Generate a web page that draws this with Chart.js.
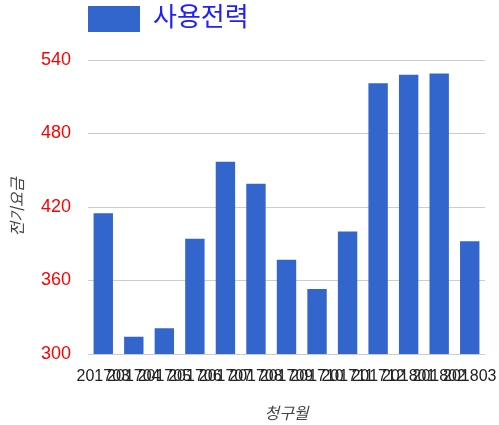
<!DOCTYPE html>
<html>
<head>
<meta charset="utf-8">
<script src="https://cdn.jsdelivr.net/npm/chart.js@4"></script>
<style>
  html, body { margin: 0; padding: 0; background: #fff; }
  #wrap { width: 499px; height: 425px; }
</style>
</head>
<body>
<div id="wrap"><canvas id="powerChart"></canvas></div>
<script>
const months = ["201703", "201704", "201705", "201706", "201707", "201708", "201709",
  "201710", "201711", "201712", "201801", "201802", "201803"];
const usage = [415, 314, 321, 394, 457, 439, 377, 353, 400, 521, 528, 529, 392];
const yTicks = [300, 360, 420, 480, 540];

const FONT = "'Liberation Sans', Arial, 'Noto Sans CJK KR', sans-serif";

// legend: fixed height above the plot, starts at the plot's left edge
const legendShift = {
  id: "legendShift",
  beforeLayout(chart) {
    const lg = chart.legend;
    if (lg && !lg._patched) {
      const fit = lg.fit;
      lg.fit = function () {
        fit.call(this);
        this.height = 60;
      };
      lg._patched = true;
    }
  },
  afterLayout(chart) {
    chart.legend.left = chart.chartArea.left - 6;
  },
};

document.addEventListener("DOMContentLoaded", function () {
  const ctx = document.getElementById("powerChart");
  new Chart(ctx, {
    type: "bar",
    data: {
      labels: months,
      datasets: [
        {
          label: "사용전력",
          data: usage,
          backgroundColor: "#3366cc",
          borderWidth: 0,
          categoryPercentage: 1,
          barPercentage: 0.635,
        },
      ],
    },
    options: {
      responsive: true,
      maintainAspectRatio: false,
      animation: false,
      layout: { padding: { left: 0, right: 14, top: 0, bottom: 0 } },
      plugins: {
        legend: {
          position: "top",
          align: "start",
          labels: {
            boxWidth: 52,
            boxHeight: 26,
            padding: 6,
            color: "#2020ff",
            font: { family: FONT, size: 26 },
          },
        },
        tooltip: { enabled: false },
      },
      scales: {
        y: {
          min: 300,
          max: 540,
          afterBuildTicks: (axis) => {
            axis.ticks = yTicks.map((v) => ({ value: v }));
          },
          afterFit: (scale) => {
            scale.width = 88;
            scale.paddingTop = 0;
            scale.paddingBottom = 0;
          },
          grid: { color: "#cccccc", lineWidth: 1, drawTicks: false },
          border: { display: false },
          ticks: {
            color: "#ff0000",
            padding: 17,
            font: { family: FONT, size: 18 },
          },
          title: {
            display: true,
            text: "전기요금",
            color: "#444444",
            padding: { top: 9, bottom: 12 },
            font: { family: FONT, size: 16, style: "italic" },
          },
        },
        x: {
          afterFit: (scale) => {
            scale.height = 71;
            scale.paddingLeft = 0;
            scale.paddingRight = 0;
          },
          grid: { display: false, drawTicks: false },
          border: { display: false },
          ticks: {
            color: "#222222",
            autoSkip: false,
            maxRotation: 0,
            minRotation: 0,
            padding: 13,
            font: { family: FONT, size: 16 },
          },
          title: {
            display: true,
            text: "청구월",
            color: "#444444",
            padding: { top: 5, bottom: 1 },
            font: { family: FONT, size: 16, style: "italic" },
          },
        },
      },
    },
    plugins: [legendShift],
  });
});
</script>
</body>
</html>
